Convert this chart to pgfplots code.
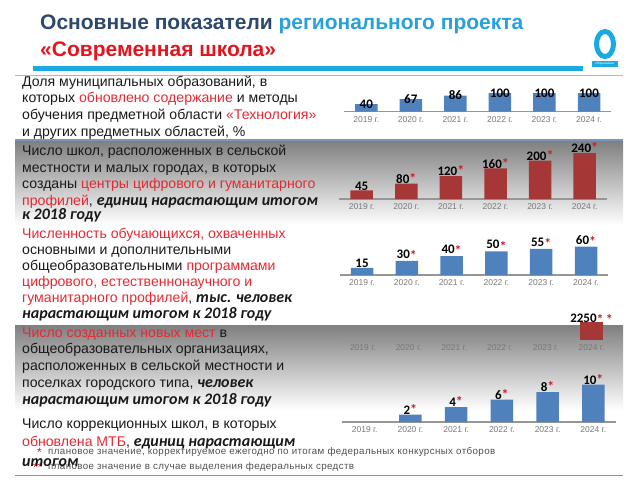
\documentclass[border=0pt]{standalone}
\usepackage{fontspec}
\setmainfont{Liberation Sans}
\newfontfamily\calfont{Carlito}
\newfontfamily\footfont[LetterSpace=4]{Liberation Sans}
\usepackage{pgfplots}
\pgfplotsset{compat=1.18}
\definecolor{tdark}{RGB}{45,72,110}
\definecolor{tlight}{RGB}{40,160,220}
\definecolor{tred}{RGB}{228,20,30}
\definecolor{bred}{RGB}{230,40,50}
\definecolor{cyanbar}{RGB}{27,169,225}
\definecolor{shade}{RGB}{220,229,240}
\definecolor{sepline}{RGB}{120,150,190}
\definecolor{seplight}{RGB}{160,185,215}
\definecolor{barblue}{RGB}{79,129,189}
\definecolor{barred}{RGB}{165,56,54}
\definecolor{astred}{RGB}{200,30,45}
\definecolor{tickgray}{RGB}{120,120,120}
\definecolor{axgray}{RGB}{150,150,150}
\definecolor{bodyc}{RGB}{25,25,25}
\definecolor{footgray}{RGB}{80,80,80}

\newcommand\R[1]{\textcolor{bred}{#1}}
\newcommand\BI[1]{{\calfont\bfseries\itshape\fontsize{16}{16}\selectfont #1}}
\protected\def\st{\textcolor{astred}{\bfseries\fontsize{14}{14}\selectfont*}}
\protected\def\stm{\textcolor{astred}{\raisebox{-0.35ex}{\bfseries\fontsize{14}{14}\selectfont*}}}
\newcommand\bodyfont{\fontsize{14.1}{16}\selectfont}
\newcommand\LN[2]{\node[anchor=base west, inner sep=0pt, font=\bodyfont, text=bodyc] at (22,#1) {#2};}

\pgfplotsset{
  mychart/.style={
    scale only axis, ybar, bar width=22.5pt, bar shift=0pt,
    xmin=-0.5, xmax=5.5, ymin=0, enlargelimits=false,
    axis y line=none, axis x line=bottom,
    x axis line style={-, draw=axgray, line width=1.2pt},
    xtick={0,1,2,3,4,5},
    xticklabels={2019 г.,2020 г.,2021 г.,2022 г.,2023 г.,2024 г.},
    xticklabel style={font=\fontsize{8.5}{9}\selectfont, text=tickgray, yshift=-1.5pt},
    major tick length=0pt,
    clip=false,
    point meta=explicit symbolic,
    nodes near coords,
    every node near coord/.append style={font=\calfont\bfseries\fontsize{13}{13}\selectfont, text=black, anchor=south, inner sep=0pt, yshift=0pt},
    anchor=south west,
  }
}

\begin{document}
\begin{tikzpicture}[x=1pt, y=-1pt]
\useasboundingbox (0,0) rectangle (640,480);
% title
\node[anchor=base west, inner sep=0pt, font=\bfseries\fontsize{21}{21}\selectfont] at (40,29.5) {\textcolor{tdark}{Основные показатели} \textcolor{tlight}{регионального проекта}};
\node[anchor=base west, inner sep=0pt, font=\bfseries\fontsize{21}{21}\selectfont, text=tred] at (40,56) {«Современная школа»};
\fill[cyanbar] (33,65.5) rectangle (583,70.5);
% logo
\draw[cyanbar, line width=5pt] (605,44) ellipse (8.5pt and 12.5pt);
\fill[cyanbar] (592,61) rectangle (618,67);
\node[inner sep=0pt, text=white, font=\fontsize{3}{3}\selectfont] at (605,64) {Образование};
% row shading and lines
\fill[shade] (15,141) rectangle (623,225);
\fill[shade] (15,325) rectangle (623,410);
\draw[seplight, line width=0.8pt] (15,75.5) -- (623,75.5);
\draw[sepline, line width=1.2pt] (15,140) -- (623,140);
\draw[sepline, line width=1pt] (15,475) -- (623,475);
% footnotes
\node[anchor=base west, inner sep=0pt, text=astred, font=\fontsize{12}{12}\selectfont] at (37,456) {*};
\node[anchor=base west, inner sep=0pt, text=astred, font=\fontsize{12}{12}\selectfont] at (33,471) {**};
\node[anchor=base west, inner sep=0pt, font=\footfont\fontsize{9.75}{10}\selectfont, text=footgray] at (48,454) {плановое значение, корректируемое ежегодно по итогам федеральных конкурсных отборов};
\node[anchor=base west, inner sep=0pt, font=\footfont\fontsize{9.75}{10}\selectfont, text=footgray] at (48,469) {плановое значение в случае выделения федеральных средств};
% row 1
\LN{86}{Доля муниципальных образований, в}
\LN{102.7}{которых \R{обновлено содержание} и методы}
\LN{119.4}{обучения предметной области \R{«Технология»}}
\LN{136}{и других предметных областей, \%}
% row 2
\LN{155.5}{Число школ, расположенных в сельской}
\LN{172}{местности и малых городах, в которых}
\LN{188.5}{созданы \R{центры цифрового и гуманитарного}}
\LN{205}{\R{профилей}, \BI{единиц нарастающим итогом}}
\LN{219}{\BI{к 2018 году}}
% row 3
\LN{238}{\R{Численность обучающихся, охваченных}}
\LN{254.5}{основными и дополнительными}
\LN{270.5}{общеобразовательными \R{программами}}
\LN{286.5}{\R{цифрового, естественнонаучного и}}
\LN{302.5}{\R{гуманитарного профилей}, \BI{тыс. человек}}
\LN{318}{\BI{нарастающим итогом к 2018 году}}
% row 4
\LN{337}{\R{Число созданных новых мест} в}
\LN{353.5}{общеобразовательных организациях,}
\LN{370}{расположенных в сельской местности и}
\LN{387}{поселках городского типа, \BI{человек}}
\LN{404}{\BI{нарастающим итогом к 2018 году}}
% row 5
\LN{428}{Число коррекционных школ, в которых}
\LN{446}{\R{обновлена МТБ}, \BI{единиц нарастающим}}
\LN{466}{\BI{итогом}}

% chart 1
\begin{axis}[mychart, at={(344pt,-111.5pt)}, width=267.3pt, height=18.5pt, ymax=100,
  every node near coord/.append style={yshift=-4.5pt}]
\addplot[fill=barblue, draw=none] coordinates {(0,40) [40] (1,67) [67] (2,86) [86] (3,100) [100] (4,100) [100] (5,100) [100]};
\end{axis}
% chart 2
\begin{axis}[mychart, at={(339.4pt,-199pt)}, width=267.6pt, height=46pt, ymax=240]
\addplot[fill=barred, draw=none] coordinates {(0,45) [45] (1,80) [80\st] (2,120) [120\st] (3,160) [160\st] (4,200) [200\st] (5,240) [240\st]};
\end{axis}
% chart 3
\begin{axis}[mychart, at={(339.6pt,-275pt)}, width=268.8pt, height=28.5pt, ymax=60]
\addplot[fill=barblue, draw=none] coordinates {(0,15) [15] (1,30) [30\stm] (2,40) [40\stm] (3,50) [50\stm] (4,55) [55\stm] (5,60) [60\stm]};
\end{axis}
% chart 4
\begin{axis}[mychart, at={(340pt,-340pt)}, width=274.4pt, height=18.5pt, ymax=2250,
  every node near coord/.append style={yshift=-3pt}]
\addplot[fill=barred, draw=none] coordinates {(5,2250) [2250\stm\,\stm]};
\end{axis}
% chart 5
\begin{axis}[mychart, at={(341.8pt,-422pt)}, width=274.4pt, height=37.5pt, ymax=10]
\addplot[fill=barblue, draw=none] coordinates {(1,2) [2\st] (2,4) [4\st] (3,6) [6\st] (4,8) [8\st] (5,10) [10\st]};
\end{axis}
\end{tikzpicture}
\end{document}
